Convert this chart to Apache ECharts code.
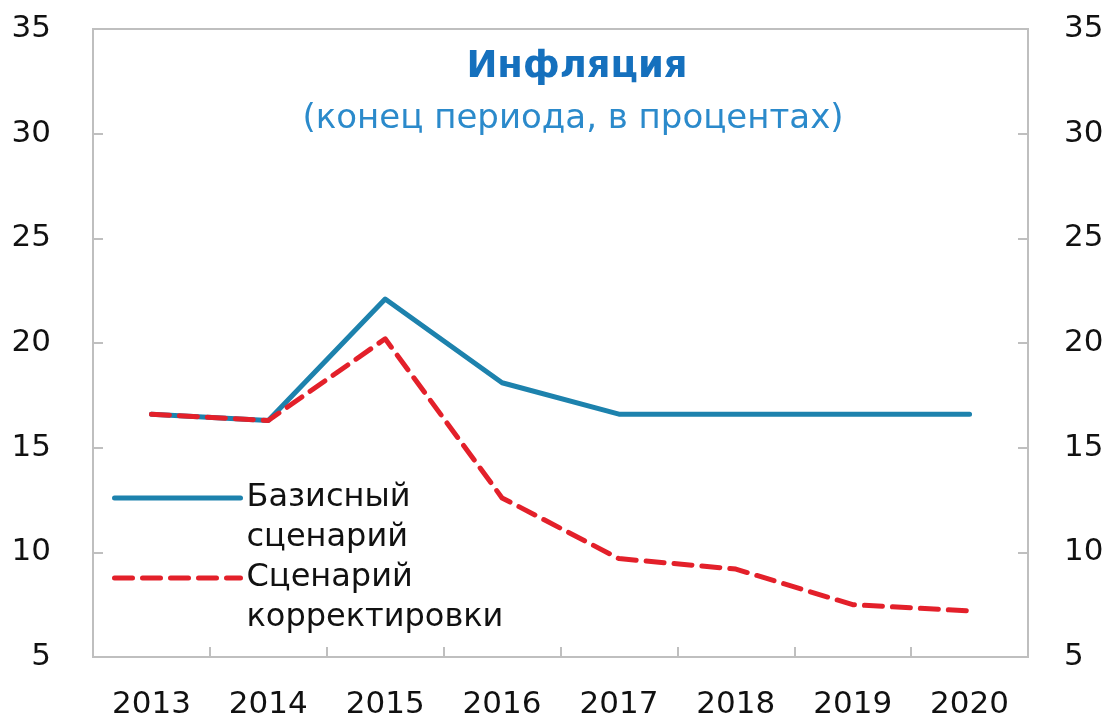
<!DOCTYPE html>
<html>
<head>
<meta charset="utf-8">
<script src="https://cdn.jsdelivr.net/npm/echarts@6/dist/echarts.min.js"></script>
<style>
html,body{margin:0;padding:0;background:#fff;}
#chart{width:1114px;height:720px;}
</style>
</head>
<body>
<div id="chart"></div>
<script>
var categories = ['2013','2014','2015','2016','2017','2018','2019','2020'];
var baseline = [16.6, 16.3, 22.1, 18.1, 16.6, 16.6, 16.6, 16.6];
var adjustment = [16.6, 16.3, 20.2, 12.6, 9.7, 9.2, 7.5, 7.2];
var seriesNames = ['Базисный\nсценарий', 'Сценарий\nкорректировки'];
var titleText = 'Инфляция';
var subtitleText = '(конец периода, в процентах)';

var FONT = 'DejaVu Sans';
var chart = echarts.init(document.getElementById('chart'));
var axisColor = '#bfbfbf';
function yAxisDef(pos) {
  return {
    type: 'value', position: pos, min: 5, max: 35, interval: 5,
    axisLine: {show: true, lineStyle: {color: axisColor, width: 2}},
    axisTick: {show: true, inside: true, length: 10, lineStyle: {color: axisColor, width: 2}},
    splitLine: {show: false},
    axisLabel: {color: '#111', fontFamily: FONT, fontSize: 31, margin: pos === 'left' ? 42 : 36,
      align: pos === 'left' ? 'right' : 'left'}
  };
}
chart.setOption({
  animation: false,
  backgroundColor: '#fff',
  title: [
    {text: titleText, left: 572, top: 44, textAlign: 'center',
     textStyle: {fontFamily: FONT, fontWeight: 'bold', fontSize: 37, color: '#1570bd'}},
    {text: subtitleText, left: 568, top: 97, textAlign: 'center',
     textStyle: {fontFamily: FONT, fontWeight: 'normal', fontSize: 34, color: '#2b8acb'}}
  ],
  grid: {left: 93, right: 86, top: 29, bottom: 61, show: true, borderColor: axisColor, borderWidth: 2},
  legend: {
    orient: 'vertical', left: 107, top: 433, itemWidth: 126, itemHeight: 12, itemGap: -40,
    data: seriesNames,
    formatter: function (name) { return '\n' + name; },
    itemStyle: {opacity: 0},
    lineStyle: {width: 5},
    textStyle: {fontFamily: FONT, fontSize: 32, color: '#111', lineHeight: 40, padding: [0, 0, 0, 1]}
  },
  xAxis: {
    type: 'category', data: categories, boundaryGap: true,
    axisLine: {show: true, lineStyle: {color: axisColor, width: 2}},
    axisTick: {show: true, inside: true, length: 10, lineStyle: {color: axisColor, width: 2}},
    axisLabel: {color: '#111', fontFamily: FONT, fontSize: 31, margin: 32}
  },
  yAxis: [yAxisDef('left'), yAxisDef('right')],
  series: [
    {name: seriesNames[0], type: 'line', data: baseline, symbol: 'none',
     lineStyle: {color: '#1d82ad', width: 5, cap: 'round', join: 'round'}, itemStyle: {color: '#1d82ad'}},
    {name: seriesNames[1], type: 'line', data: adjustment, symbol: 'none',
     lineStyle: {color: '#e3202a', width: 5, type: [18, 10], cap: 'round', join: 'round'}, itemStyle: {color: '#e3202a'}}
  ]
});
</script>
</body>
</html>
